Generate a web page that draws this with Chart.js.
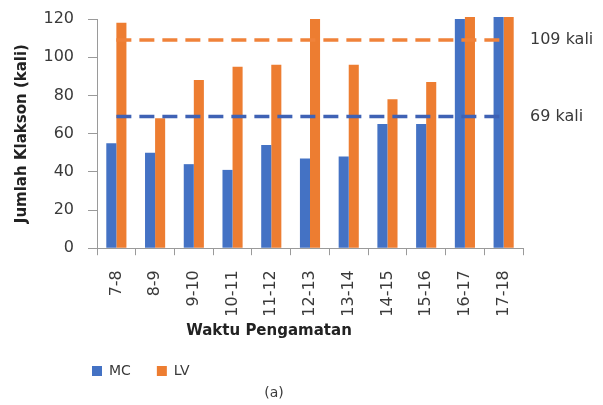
<!DOCTYPE html>
<html><head><meta charset="utf-8">
<script src="https://cdn.jsdelivr.net/npm/chart.js@4"></script>
<style>html,body{margin:0;padding:0;background:#fff}#wrap{width:603px;height:405px}</style>
</head><body><div id="wrap"><canvas id="c" width="603" height="405"></canvas></div>
<script>
const categories = ["7-8","8-9","9-10","10-11","11-12","12-13","13-14","14-15","15-16","16-17","17-18"];
const mcValues = [55, 50, 44, 41, 54, 47, 48, 65, 65, 120, 121];
const lvValues = [118, 68, 88, 95, 96, 120, 96, 78, 87, 121, 121];
const lvAverage = 109;
const mcAverage = 69;
const yTicks = [0, 20, 40, 60, 80, 100, 120];
const refLabels = ["109 kali", "69 kali"];
const xTitle = "Waktu Pengamatan";

const FONT = "'DejaVu Sans', sans-serif";
const BLUE = "#4472C4", ORANGE = "#ED7D31";
const TXT = "#3a3a3a";

const extras = {
  id: 'extras',
  afterLayout(chart) {
    const lg = chart.legend;
    const lp = lg.options.labels.padding;
    const fs = lg.options.labels.font.size;
    const w = lg.right - lg.left, h = lg.bottom - lg.top;
    lg.left = 92 - lp; lg.right = lg.left + w;
    lg.top = 371 - lp - fs / 2; lg.bottom = lg.top + h;
    const t = chart.titleBlock;
    const th = t.bottom - t.top;
    const tp = t.options.padding.top || 0;
    t.left = 274 - 40; t.right = 274 + 40;
    t.top = 393 - tp - (t.options.font.size * 1.2) / 2; t.bottom = t.top + th;
  },
  afterDatasetsDraw(chart) {
    const ctx = chart.ctx, y = chart.scales.y;
    ctx.save();
    ctx.font = "16px " + FONT;
    ctx.fillStyle = TXT;
    ctx.textBaseline = "middle";
    ctx.textAlign = "left";
    ctx.fillText(refLabels[0], chart.chartArea.right + 7, y.getPixelForValue(lvAverage));
    ctx.fillText(refLabels[1], chart.chartArea.right + 7, y.getPixelForValue(mcAverage));
    ctx.font = "bold 15px " + FONT;
    ctx.fillStyle = "#222";
    ctx.textAlign = "center";
    ctx.fillText(xTitle, 269, 331);
    ctx.restore();
  }
};

new Chart(document.getElementById('c'), {
  data: {
    labels: categories,
    datasets: [
      { type: 'line', label: 'avgLV', data: categories.map(() => lvAverage), borderColor: "#F0823A", borderWidth: 3.5, borderDash: [15, 8], pointRadius: 0, order: 0, fill: false },
      { type: 'line', label: 'avgMC', data: categories.map(() => mcAverage), borderColor: "#3F62B5", borderWidth: 3.5, borderDash: [15, 8], pointRadius: 0, order: 0, fill: false },
      { type: 'bar', label: 'MC', data: mcValues, backgroundColor: BLUE, order: 1, categoryPercentage: 0.52, barPercentage: 1, clip: false },
      { type: 'bar', label: 'LV', data: lvValues, backgroundColor: ORANGE, order: 1, categoryPercentage: 0.52, barPercentage: 1, clip: false }
    ]
  },
  options: {
    responsive: false,
    animation: false,
    devicePixelRatio: 1,
    layout: { padding: { left: 0, right: 80, top: 19, bottom: 0 } },
    plugins: {
      legend: {
        position: 'bottom', align: 'start',
        labels: {
          filter: (it) => it.text === 'MC' || it.text === 'LV',
          boxWidth: 10, boxHeight: 10, font: { family: FONT, size: 14 }, color: TXT, padding: 26
        }
      },
      title: { display: true, position: 'bottom', text: '(a)', font: { family: FONT, size: 14, weight: 'normal' }, color: TXT, padding: { top: 4, bottom: 4 } },
      tooltip: { enabled: false }
    },
    scales: {
      x: {
        afterFit: (s) => { s.height = 82; },
        grid: { display: true, drawOnChartArea: false, offset: true, color: '#9a9a9a', tickLength: 7 },
        border: { color: '#9a9a9a', width: 1 },
        ticks: { minRotation: 90, maxRotation: 90, font: { family: FONT, size: 16 }, color: TXT, padding: 15 }
      },
      y: {
        min: 0, max: 120,
        afterBuildTicks: (s) => { s.ticks = yTicks.map(v => ({ value: v })); },
        afterFit: (s) => { s.width = 97; s.paddingTop = 0; s.paddingBottom = 0; },
        grid: { display: true, drawOnChartArea: false, color: '#9a9a9a', tickLength: 9 },
        border: { color: '#9a9a9a', width: 1 },
        ticks: { font: { family: FONT, size: 16 }, color: TXT, padding: 14 },
        title: { display: true, text: 'Jumlah Klakson (kali)', font: { family: FONT, size: 15, weight: 'bold' }, color: '#222', padding: { top: 13, bottom: 0 } }
      }
    }
  },
  plugins: [extras]
});
</script>
</body></html>
